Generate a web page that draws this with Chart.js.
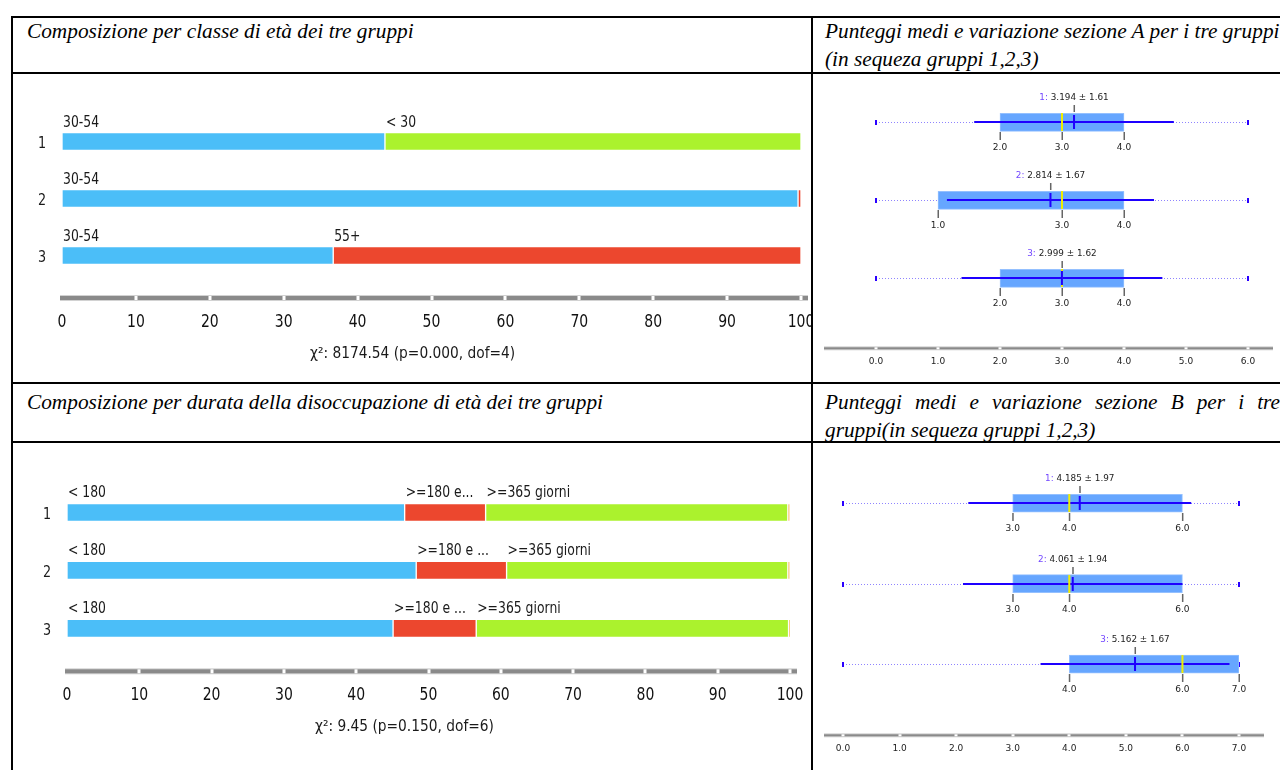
<!DOCTYPE html>
<html lang="it">
<head>
<meta charset="utf-8">
<title>Composizione e punteggi dei tre gruppi</title>
<script src="https://cdn.jsdelivr.net/npm/chart.js@4.4.1/dist/chart.umd.min.js"></script>
<style>
  html, body { margin: 0; padding: 0; background: #fff; }
  #pagina { position: relative; width: 1280px; height: 770px; overflow: hidden; background: #fff; }
  .riga { position: absolute; background: #000; }
  .intest { position: absolute; font-family: 'Liberation Serif', 'Times New Roman', serif; font-style: italic;
            font-size: 21.3px; line-height: 28px; color: #000; white-space: nowrap; }
  .cella { position: absolute; overflow: hidden; }
  .cella canvas { position: absolute; left: 0; top: 0; }
</style>
</head>
<body>
<div id="pagina">
  <div class="intest" style="left:27px; top:17px;">Composizione per classe di età dei tre gruppi</div>
  <div class="intest" style="left:825px; top:17px;">Punteggi medi e variazione sezione A per i tre gruppi<br>(in sequeza gruppi 1,2,3)</div>
  <div class="intest" style="left:27px; top:388px;">Composizione per durata della disoccupazione di età dei tre gruppi</div>
  <div class="intest" style="left:825px; top:388px; width:455px; white-space:normal; text-align:justify;">Punteggi medi e variazione sezione B per i tre gruppi(in sequeza gruppi 1,2,3)</div>

  <div class="cella" style="left:13px; top:74px; width:798px; height:308px;"><canvas id="graficoEta" width="830" height="308"></canvas></div>
  <div class="cella" style="left:813px; top:74px; width:467px; height:308px;"><canvas id="graficoSezioneA" width="467" height="308"></canvas></div>
  <div class="cella" style="left:13px; top:443px; width:798px; height:327px;"><canvas id="graficoDurata" width="830" height="327"></canvas></div>
  <div class="cella" style="left:813px; top:443px; width:467px; height:327px;"><canvas id="graficoSezioneB" width="467" height="327"></canvas></div>

  <div class="riga" style="left:11px; top:16px; width:1269px; height:2px;"></div>
  <div class="riga" style="left:11px; top:72px; width:1269px; height:2px;"></div>
  <div class="riga" style="left:11px; top:382px; width:1269px; height:2px;"></div>
  <div class="riga" style="left:11px; top:441px; width:1269px; height:2px;"></div>
  <div class="riga" style="left:11px; top:16px; width:2px; height:754px;"></div>
  <div class="riga" style="left:811px; top:16px; width:2px; height:754px;"></div>
</div>

<script>
// ---- Gruppi ----
const gruppi = ['1', '2', '3'];

// ---- Composizione per classe di età (percentuali per gruppo) ----
const etaCategorie = ['30-54', '< 30', '55+'];
const eta3054 = [43.7, 99.6, 36.7];
const etaMeno30 = [56.3, 0, 0];
const eta55piu = [0, 0.4, 63.3];
const etaEtichette = [['30-54', '< 30', ''], ['30-54', '', ''], ['30-54', '', '55+']];
const etaChi = 'χ²: 8174.54 (p=0.000, dof=4)';

// ---- Composizione per durata della disoccupazione (percentuali per gruppo) ----
const durataCategorie = ['< 180', '>=180 e < 365', '>=365 giorni', 'n.d.'];
const durataMeno180 = [46.7, 48.3, 45.1];
const durata180_365 = [11.2, 12.5, 11.5];
const durata365piu = [41.8, 38.9, 43.2];
const durataND = [0.3, 0.3, 0.2];
const durataEtichette = [
  ['< 180', '>=180 e...', '>=365 giorni', ''],
  ['< 180', '>=180 e ...', '>=365 giorni', ''],
  ['< 180', '>=180 e ...', '>=365 giorni', '']
];
const durataChi = 'χ²: 9.45 (p=0.150, dof=6)';
const tickPercentuali = [0, 10, 20, 30, 40, 50, 60, 70, 80, 90, 100];

// ---- Punteggi sezione A ----
const minA = [0, 0, 0];
const q1A = [2, 1, 2];
const medianaA = [3, 3, 3];
const q3A = [4, 4, 4];
const maxA = [6, 6, 6];
const mediaA = [3.194, 2.814, 2.999];
const dsA = [1.61, 1.67, 1.62];
const tickSezioneA = [0, 1, 2, 3, 4, 5, 6];

// ---- Punteggi sezione B ----
const minB = [0, 0, 0];
const q1B = [3, 3, 4];
const medianaB = [4, 4, 6];
const q3B = [6, 6, 7];
const maxB = [7, 7, 7];
const mediaB = [4.185, 4.061, 5.162];
const dsB = [1.97, 1.94, 1.67];
const tickSezioneB = [0, 1, 2, 3, 4, 5, 6, 7];

// ---- Colori ----
const BLU = '#4bbef8', VERDE = '#abf22d', ROSSO = '#ec472e', ARANCIO = '#f6a83a';
const SANS = "'DejaVu Sans', Tahoma, Verdana, sans-serif";

function testo(ctx, t, x, y, size, sx, color, align) {
  ctx.save();
  ctx.font = size + 'px ' + SANS;
  ctx.fillStyle = color;
  ctx.textAlign = align || 'left';
  ctx.textBaseline = 'middle';
  ctx.translate(x, y);
  ctx.scale(sx, 1);
  ctx.fillText(t, 0, 0);
  ctx.restore();
}

// grey ruler with white notches at the tick positions
function righello(ctx, x0, x1, y, spessore, tacche) {
  ctx.save();
  ctx.fillStyle = '#d2d2d2';
  ctx.fillRect(x0, y - spessore / 2 - 1, x1 - x0, spessore + 2);
  ctx.fillStyle = '#8a8a8a';
  ctx.fillRect(x0, y - spessore / 2, x1 - x0, spessore);
  ctx.fillStyle = '#ffffff';
  tacche.forEach(px => ctx.fillRect(Math.round(px) - 1.5, y - spessore / 2, 3, spessore));
  ctx.restore();
}

// labels, ruler and chi-square line for the stacked composition bars
function pluginComposizione(cfg) {
  return {
    id: 'composizione',
    afterDatasetsDraw(chart) {
      const { ctx, chartArea, scales: { x, y } } = chart;
      chart.data.datasets.forEach((ds, di) => {
        chart.getDatasetMeta(di).data.forEach((bar, gi) => {
          const t = cfg.etichette[gi][di];
          if (!t) return;
          const sinistra = Math.min(bar.x, bar.base);
          testo(ctx, t, sinistra + 1, bar.y - 19, 15.5, 0.8, '#1a1a1a', 'left');
        });
      });
      gruppi.forEach((g, i) => testo(ctx, g, chartArea.left - 20, y.getPixelForValue(i) + 3, 15, 0.85, '#1a1a1a', 'center'));
      const yR = chartArea.bottom + 14;
      righello(ctx, chartArea.left - 2, chartArea.right + 7, yR, 4, tickPercentuali.slice(1).map(v => x.getPixelForValue(v)));
      tickPercentuali.forEach(v => testo(ctx, String(v), x.getPixelForValue(v), chartArea.bottom + 38, 17.5, 0.8, '#111', 'center'));
      testo(ctx, cfg.chi, chartArea.left + 248, chartArea.bottom + 70, 16, 0.86, '#1a1a1a', 'left');
    }
  };
}

function graficoComposizione(id, serie, colori, nomi, padding, cfg) {
  return new Chart(document.getElementById(id), {
    type: 'bar',
    data: {
      labels: gruppi,
      datasets: serie.map((d, i) => ({
        label: nomi[i], data: d, backgroundColor: colori[i],
        borderColor: 'rgba(255,255,255,0.8)', borderWidth: 1, borderSkipped: false,
        barThickness: 18
      }))
    },
    options: {
      indexAxis: 'y', responsive: false, maintainAspectRatio: false, animation: false, events: [],
      layout: { padding },
      scales: {
        x: { stacked: true, min: 0, max: 100, display: false },
        y: { stacked: true, display: false }
      },
      plugins: { legend: { display: false }, tooltip: { enabled: false } }
    },
    plugins: [pluginComposizione(cfg)]
  });
}

// whiskers, mean/median marks and value labels for the score boxes
function pluginBox(cfg) {
  return {
    id: 'punteggi',
    beforeDatasetsDraw(chart) {
      const { ctx, scales: { x, y } } = chart;
      cfg.min.forEach((mn, i) => {
        const cy = Math.round(y.getPixelForValue(i));
        const x0 = x.getPixelForValue(mn), x1 = x.getPixelForValue(cfg.max[i]);
        ctx.save();
        ctx.strokeStyle = '#8f84ff'; ctx.lineWidth = 1; ctx.setLineDash([1, 2]);
        ctx.beginPath(); ctx.moveTo(x0, cy + 0.5); ctx.lineTo(x1, cy + 0.5); ctx.stroke();
        ctx.restore();
        ctx.fillStyle = '#2a00ff';
        ctx.fillRect(x0 - 1, cy - 2, 2, 5);
        ctx.fillRect(x1 - 1, cy - 2, 2, 5);
      });
    },
    afterDatasetsDraw(chart) {
      const { ctx, chartArea, scales: { x, y } } = chart;
      cfg.media.forEach((m, i) => {
        const cy = Math.round(y.getPixelForValue(i));
        const xm = x.getPixelForValue(m);
        const xa = x.getPixelForValue(m - cfg.ds[i]);
        const xb = x.getPixelForValue(m + cfg.ds[i]);
        ctx.fillStyle = '#1e00ff';
        ctx.fillRect(xa, cy - 1, xb - xa, 2);
        const xMed = x.getPixelForValue(cfg.mediana[i]);
        ctx.fillStyle = '#f0ee00';
        ctx.fillRect(xMed - 1, cy - 9, 2, 18);
        ctx.fillStyle = '#1e00ff';
        ctx.fillRect(xm - 1, cy - 7, 2, 14);
        ctx.fillStyle = '#666';
        ctx.fillRect(xm - 0.5, cy - 17, 1.5, 7);
        // label "g: media ± ds"
        ctx.save();
        ctx.font = '9.5px ' + SANS;
        const a = gruppi[i] + ':';
        const b = ' ' + m.toFixed(3) + ' ± ' + cfg.ds[i].toFixed(2);
        const sx = 0.93;
        const wa = ctx.measureText(a).width * sx, wb = ctx.measureText(b).width * sx;
        ctx.restore();
        const xs = xm - (wa + wb) / 2;
        testo(ctx, a, xs, cy - 24, 9.5, sx, '#7347ff', 'left');
        testo(ctx, b, xs + wa, cy - 24, 9.5, sx, '#222', 'left');
        [cfg.q1[i], cfg.mediana[i], cfg.q3[i]].forEach(v => {
          const px = x.getPixelForValue(v);
          ctx.fillStyle = '#666';
          ctx.fillRect(px - 0.5, cy + 10, 1.5, 8);
          testo(ctx, v.toFixed(1), px, cy + 26, 9.5, 0.95, '#222', 'center');
        });
      });
      const yR = chartArea.bottom + 31;
      righello(ctx, 11, chartArea.right + 25, yR, 2, cfg.tick.map(v => x.getPixelForValue(v)));
      cfg.tick.forEach(v => testo(ctx, v.toFixed(1), x.getPixelForValue(v), chartArea.bottom + 44, 9.5, 0.95, '#222', 'center'));
    }
  };
}

function graficoBox(id, cfg, massimo, padding) {
  return new Chart(document.getElementById(id), {
    type: 'bar',
    data: {
      labels: gruppi,
      datasets: [{
        label: 'Q1-Q3', data: cfg.q1.map((v, i) => [v, cfg.q3[i]]),
        backgroundColor: '#66a6ff', borderColor: '#94c0ff', borderWidth: 1, borderSkipped: false,
        barThickness: 18
      }]
    },
    options: {
      indexAxis: 'y', responsive: false, maintainAspectRatio: false, animation: false, events: [],
      layout: { padding },
      scales: {
        x: { type: 'linear', min: 0, max: massimo, display: false },
        y: { display: false }
      },
      plugins: { legend: { display: false }, tooltip: { enabled: false } }
    },
    plugins: [pluginBox(cfg)]
  });
}

graficoComposizione('graficoEta', [eta3054, etaMeno30, eta55piu], [BLU, VERDE, ROSSO], etaCategorie,
  { left: 49, right: 42, top: 39, bottom: 98 }, { etichette: etaEtichette, chi: etaChi });

graficoComposizione('graficoDurata', [durataMeno180, durata180_365, durata365piu, durataND], [BLU, ROSSO, VERDE, ARANCIO], durataCategorie,
  { left: 54, right: 53, top: 40.5, bottom: 112.7 }, { etichette: durataEtichette, chi: durataChi });

graficoBox('graficoSezioneA',
  { min: minA, q1: q1A, mediana: medianaA, q3: q3A, max: maxA, media: mediaA, ds: dsA, tick: tickSezioneA },
  6, { left: 63, right: 32, top: 9.3, bottom: 64.7 });

graficoBox('graficoSezioneB',
  { min: minB, q1: q1B, mediana: medianaB, q3: q3B, max: maxB, media: mediaB, ds: dsB, tick: tickSezioneB },
  7, { left: 30, right: 41, top: 20, bottom: 65.7 });
</script>
</body>
</html>
